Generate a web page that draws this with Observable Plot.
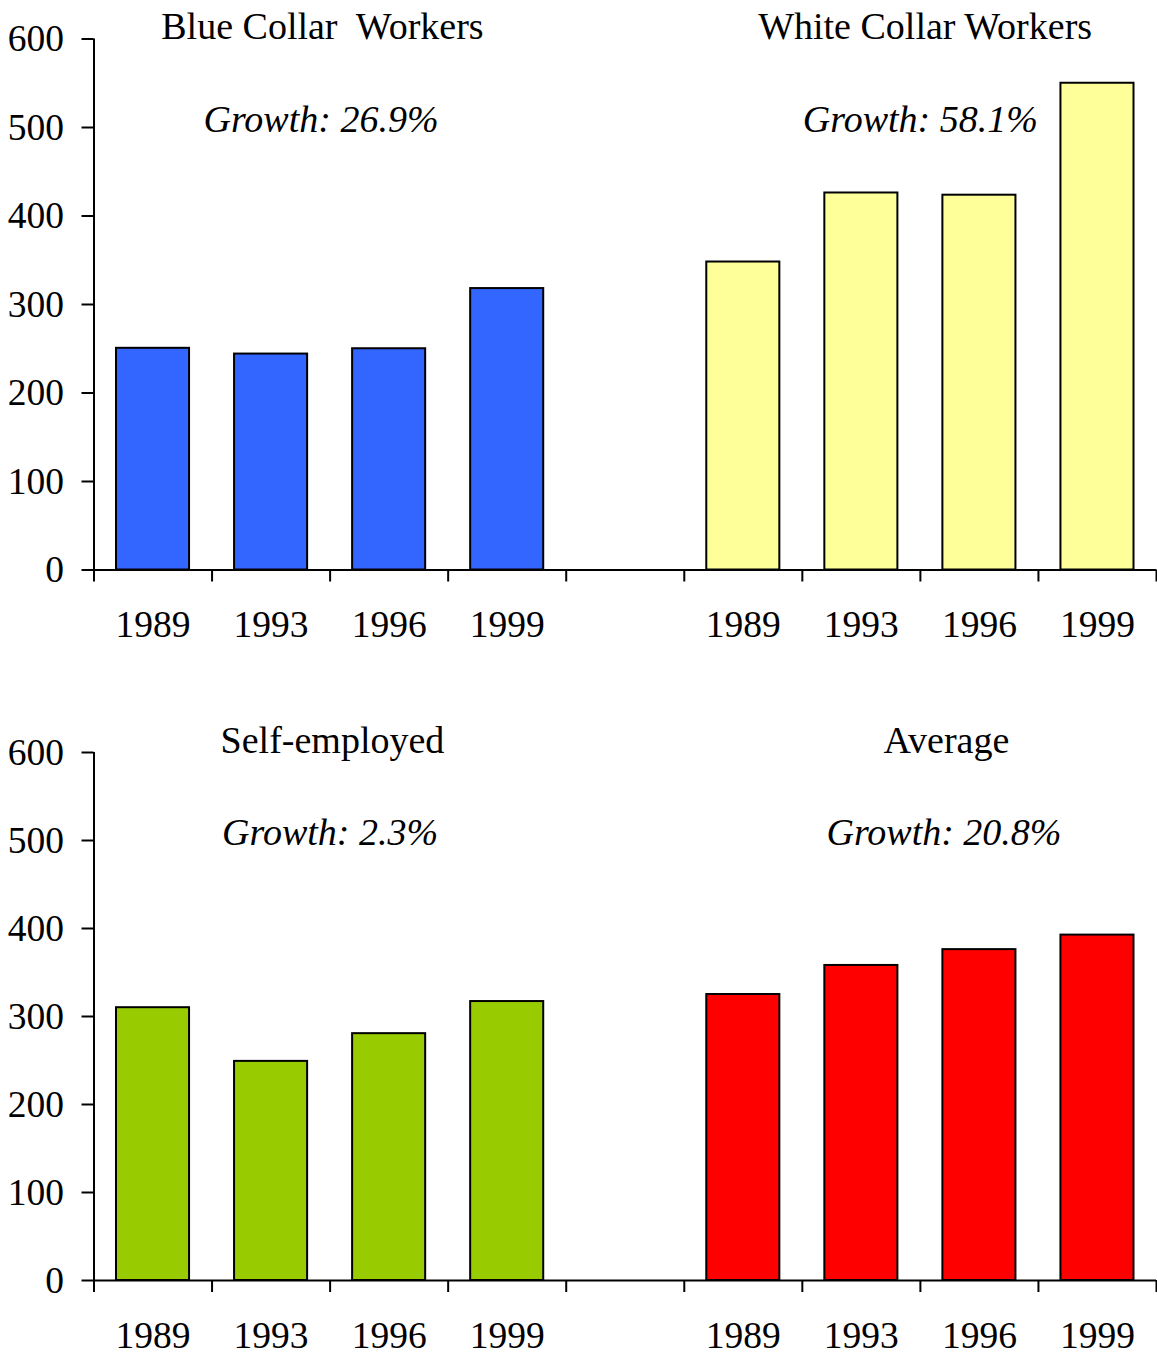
<!DOCTYPE html>
<html>
<head>
<meta charset="utf-8">
<script src="https://cdn.jsdelivr.net/npm/d3@7"></script>
<script src="https://cdn.jsdelivr.net/npm/@observablehq/plot@0.6"></script>
<style>
  html, body { margin: 0; padding: 0; background: #fff; }
  #chart { width: 1157px; }
  #chart svg { display: block; }
  #chart svg text { white-space: pre; }
</style>
</head>
<body>
<div id="chart"></div>
<script>
// ---- data ----
const years = ["1989", "1993", "1996", "1999"];
const blueCollar   = [250.5, 244, 250, 318];
const whiteCollar  = [348, 426, 423.5, 550];
const selfEmployed = [310, 249, 280.5, 317];
const average      = [325, 358, 376, 392.5];
const groupTitles  = ["Blue Collar  Workers", "White Collar Workers", "Self-employed", "Average"];
const growthLabels = ["Growth: 26.9%", "Growth: 58.1%", "Growth: 2.3%", "Growth: 20.8%"];
const yTicks = [0, 100, 200, 300, 400, 500, 600];

const colors = {blue: "#3366FF", yellow: "#FFFF99", green: "#99CC00", red: "#FF0000"};
const FONT = "'Liberation Serif', 'Times New Roman', serif";

function rows(values, offset) {
  return values.map((v, i) => ({slot: offset + i, year: years[i], value: v}));
}

function panel({left, right, leftColor, rightColor, titles, growth, titleX, growthX, height, marginTop, marginBottom}) {
  const L = rows(left, 0);
  const R = rows(right, 5);
  const all = L.concat(R);
  const ann = [
    {x: titleX[0], y: 600, text: titles[0], style: "normal"},
    {x: titleX[1], y: 600, text: titles[1], style: "normal"},
    {x: growthX[0], y: 495, text: growth[0], style: "italic"},
    {x: growthX[1], y: 495, text: growth[1], style: "italic"}
  ];
  return Plot.plot({
    width: 1157,
    height,
    marginTop,
    marginBottom,
    marginLeft: 93.5,
    marginRight: 1,
    style: {fontFamily: FONT, background: "white", color: "black", overflow: "visible"},
    x: {type: "linear", domain: [0, 9], axis: null},
    y: {domain: [0, 600], axis: null},
    marks: [
      Plot.rectY(L, {x1: "slot", x2: d => d.slot + 1, y1: 0, y2: "value", insetLeft: 22.5, insetRight: 22.5, fill: leftColor, stroke: "black", strokeWidth: 2}),
      Plot.rectY(R, {x1: "slot", x2: d => d.slot + 1, y1: 0, y2: "value", insetLeft: 22.5, insetRight: 22.5, fill: rightColor, stroke: "black", strokeWidth: 2}),
      Plot.ruleX([0], {y1: 0, y2: 600, stroke: "black", strokeWidth: 2}),
      Plot.ruleY([0], {stroke: "black", strokeWidth: 2}),
      Plot.axisY({ticks: yTicks, tickSize: 12, tickPadding: 18, fontSize: 37.5, strokeWidth: 2, tickFormat: d => String(d), fontFamily: FONT}),
      Plot.axisX({ticks: d3.range(10), tickSize: 12, strokeWidth: 2, tickFormat: () => ""}),
      Plot.text(all, {x: d => d.slot + 0.5, y: 0, dy: 55, text: "year", fontSize: 37.5, fill: "black", fontFamily: FONT}),
      Plot.text(ann.filter(d => d.style === "normal"), {x: "x", y: "y", text: "text", fontSize: 38, lineAnchor: "bottom", fill: "black", fontFamily: FONT}),
      Plot.text(ann.filter(d => d.style === "italic"), {x: "x", y: "y", text: "text", fontSize: 38, fontStyle: "italic", lineAnchor: "bottom", fill: "black", fontFamily: FONT})
    ]
  });
}

const topPanel = panel({
  left: blueCollar, right: whiteCollar,
  leftColor: colors.blue, rightColor: colors.yellow,
  titles: [groupTitles[0], groupTitles[1]],
  growth: [growthLabels[0], growthLabels[1]],
  titleX: [1.935, 7.04], growthX: [1.923, 7.0],
  height: 700, marginTop: 38.5, marginBottom: 130.5
});
const bottomPanel = panel({
  left: selfEmployed, right: average,
  leftColor: colors.green, rightColor: colors.red,
  titles: [groupTitles[2], groupTitles[3]],
  growth: [growthLabels[2], growthLabels[3]],
  titleX: [2.02, 7.22], growthX: [2.0, 7.2],
  height: 654, marginTop: 52, marginBottom: 74
});
const chart = document.getElementById("chart");
chart.appendChild(topPanel);
chart.appendChild(bottomPanel);
</script>
</body>
</html>
